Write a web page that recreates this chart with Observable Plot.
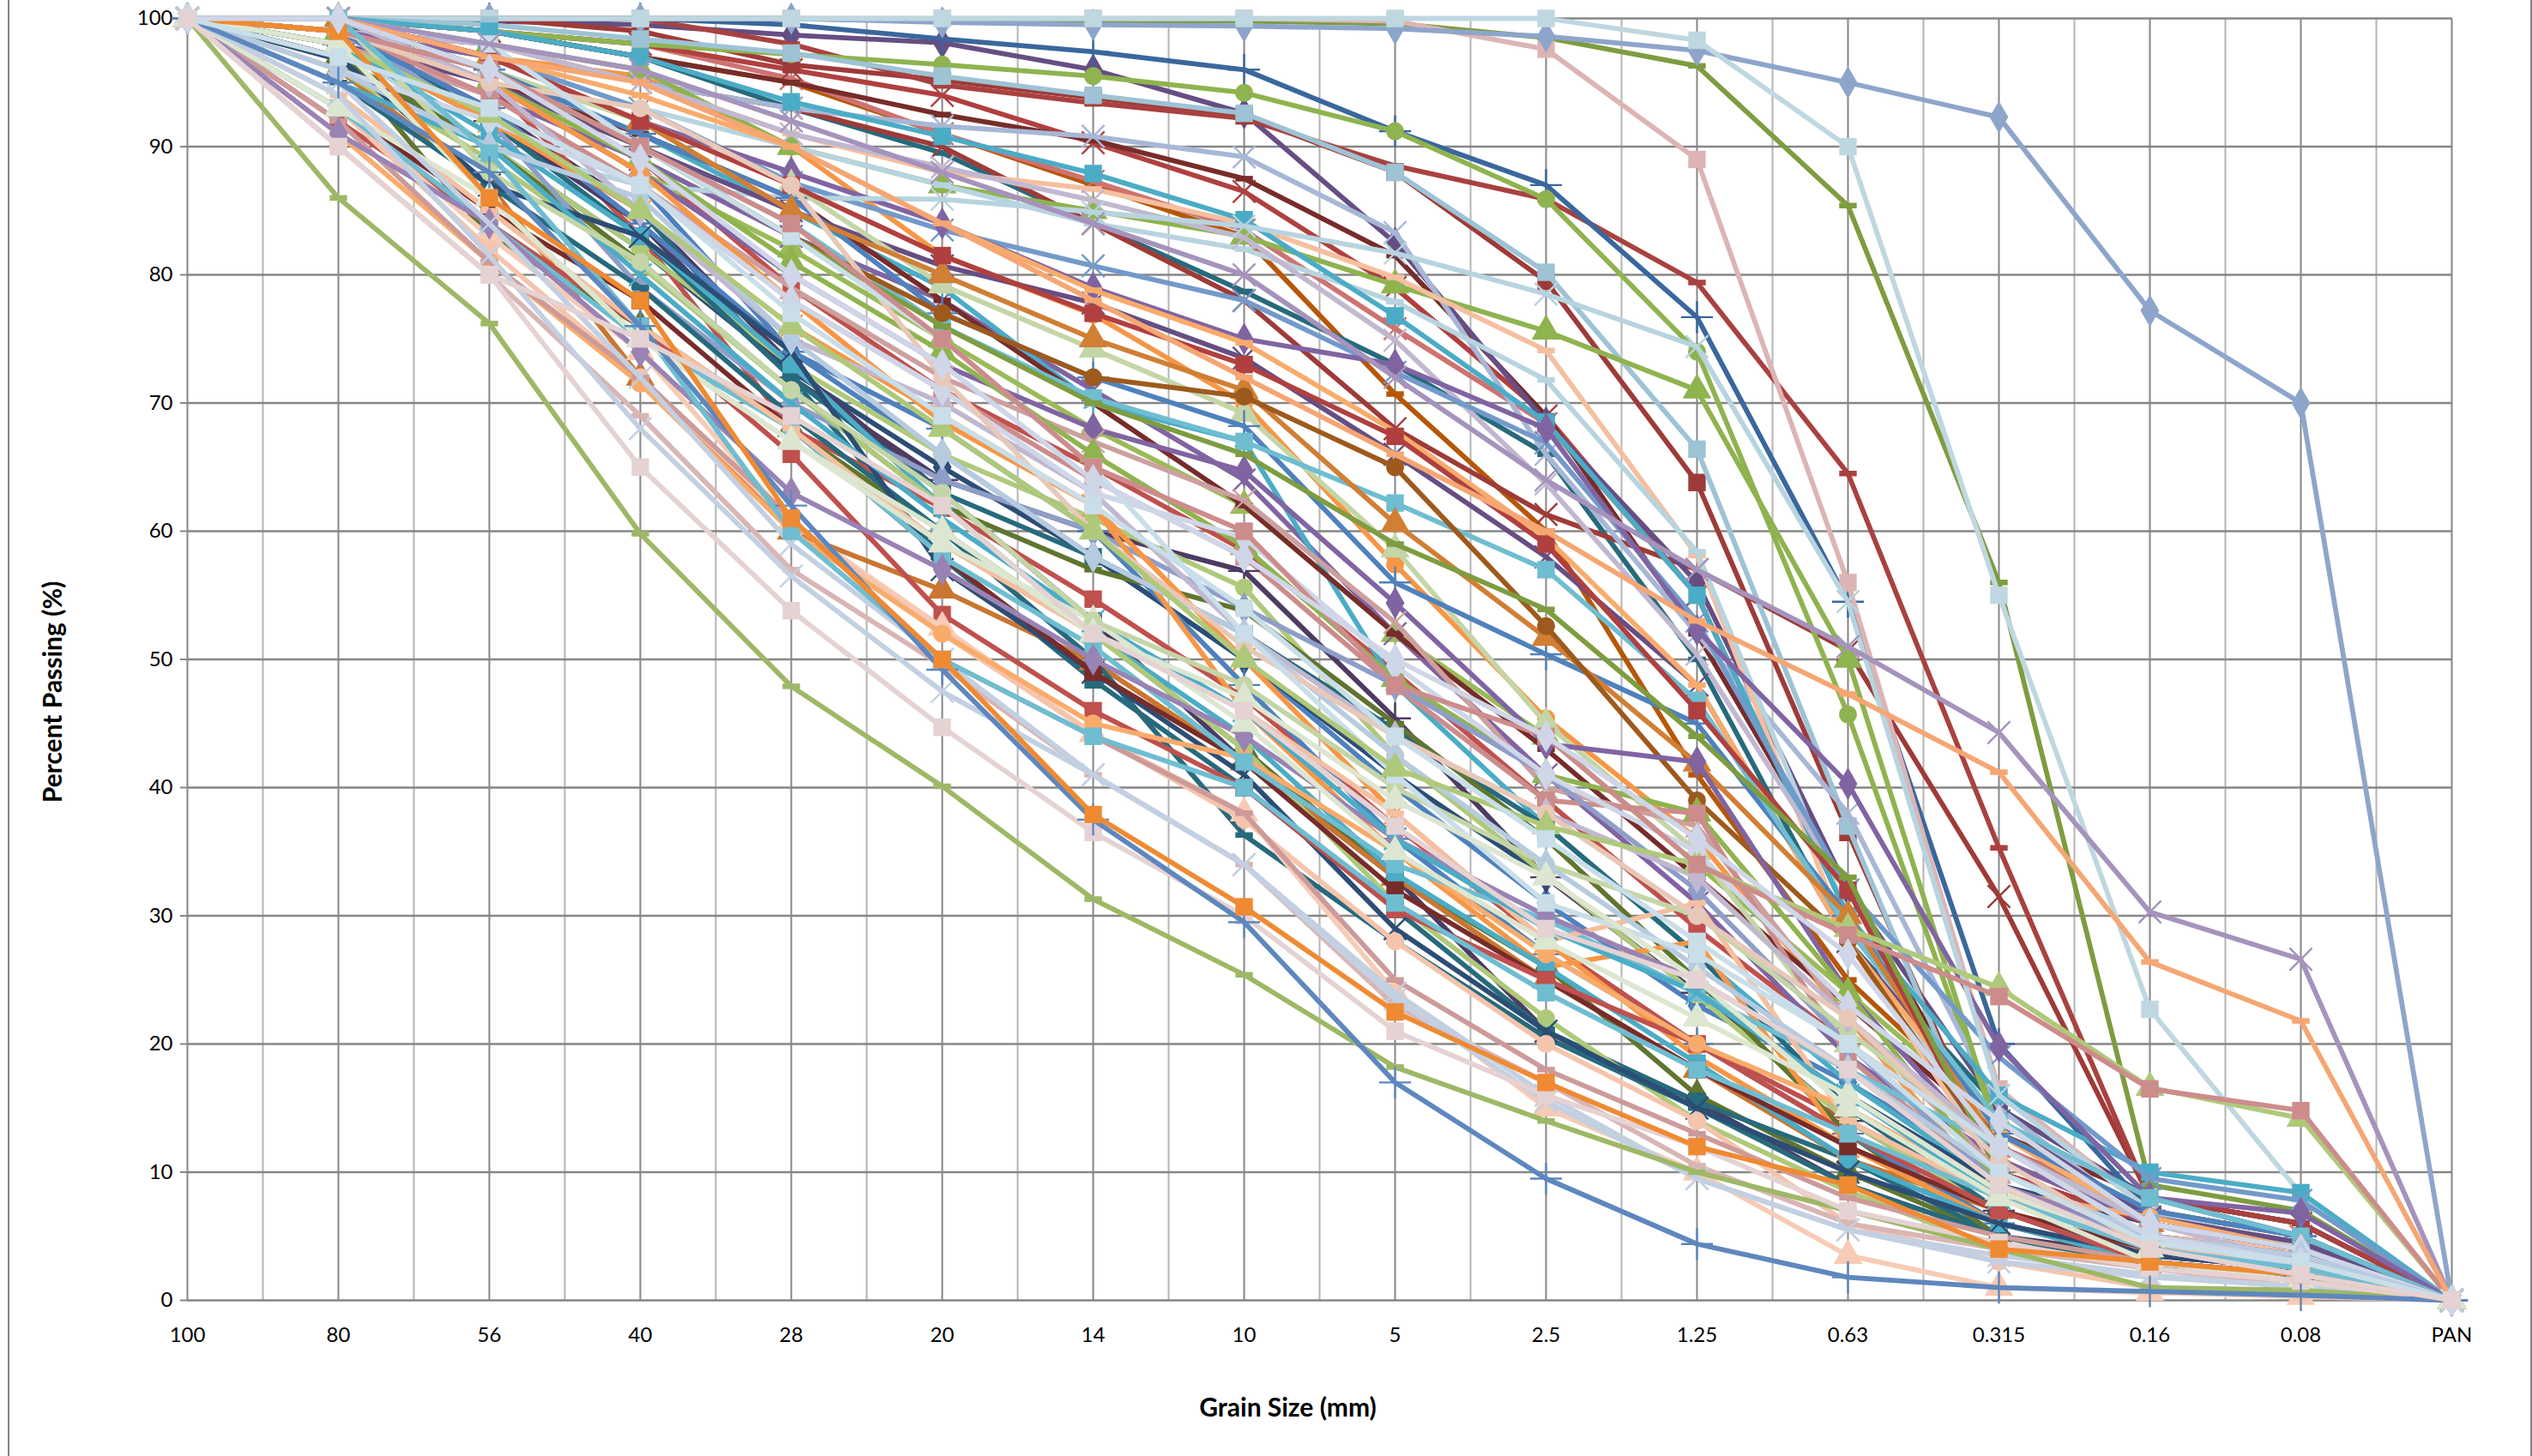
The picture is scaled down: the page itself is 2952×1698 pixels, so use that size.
<!DOCTYPE html>
<html><head><meta charset="utf-8">
<style>
html,body{margin:0;padding:0;background:#fff;overflow:hidden}
#frame{position:absolute;left:9px;top:0;width:2939px;height:1698px;border-left:2px solid #868686;border-right:2px solid #868686}
#chart{position:absolute;left:0;top:0}
svg{display:block;background:transparent}
</style>
<script src="https://cdn.jsdelivr.net/npm/d3@7"></script>
<script src="https://cdn.jsdelivr.net/npm/@observablehq/plot@0.6"></script>
</head><body><div id="frame"></div><div id="chart"></div>
<script>
const grainLabels=["100","80","56","40","28","20","14","10","5","2.5","1.25","0.63","0.315","0.16","0.08","PAN"];
const percentTicks=[0,10,20,30,40,50,60,70,80,90,100];
const s01=[100,97,93,87,74,66,58,50,40,31,23,17,10,6,4,0];
const s02=[100,100,96,89,79,71,65,58.5,49,39,29,20,12,7,5,0];
const s03=[100,100,95,88,82,75,68,62,52,44,34,24,14,6,4,0];
const s04=[100,98,94,89,83,78,71,64,52,41,31,19,11,6,4,0];
const s05=[100,99,96,91,85,79,70,67,48,37,27,17,9,4,3,0];
const s06=[100,100,97,95.5,90,81.5,76.9,70,57.4,45.4,36,22,8,5,3.5,0];
const s07=[100,96.8,90,82,72.5,65,58,50,41,33,24,16,9,6,4,0];
const s08=[100,99,95,91,86,78,70,62,52,43,33,23,13,8,6,0];
const s09=[100,97,83,76,68,60,52,43,33,26,16,10,5,3,2,0];
const s10=[100,99,93,85,73,63,53,42,33,21,15.5,9,5,3.5,2.5,0];
const s11=[100,100,92,85,72,57.9,48.4,40,30.5,21,15.5,11,5,2.5,1.8,0];
const s12=[100,96,87,72,60,55.4,49.8,42,33,25,18,11,7,4,3,0];
const s13=[100,100,95,83,68,61.8,54.7,47,37,28,20,14,8,5,3.5,0];
const s14=[100,100,99,97,95,91,87,83,70.7,60,41,25,14,6,4,0];
const s15=[100,100,99,98,95.3,91,87.3,83.5,75.8,68.4,55,30,12,7,5,0];
const s16=[100,100,99,97,93,89.5,84,78.7,73,66,50,28,15,8,6,0];
const s17=[100,100,99,98,96,94,90.3,86.5,79,69,55,30,10,6,4,0];
const s18=[100,100,99,97,95,92.5,90.5,87.5,81.5,69,52,32,12,6,4,0];
const s19=[100,99,98,95,93,90,84,78,68,61.3,57,50.7,31.5,8,6,0];
const s20=[100,100,99.8,99.5,98.7,98.1,96,92.6,82.5,68.5,56,32,15,8,5,0];
const s21=[100,100,100,99,96.4,95.2,93.8,92.4,88,79.5,63.8,36.5,10,5,4,0];
const s22=[100,100,100,100,98,94.8,93.4,92.2,88.5,85.9,79.4,64.5,35.3,8,6,0];
const s23=[100,100,100,100,99.5,98.4,97.4,96,91.2,87,76.7,54.5,20,7,5,0];
const s24=[100,100,99,98,97.2,96.4,95.5,94.2,91.2,85.9,74,45.7,13,7,5,0];
const s25=[100,100,100,100,100,99.8,99.8,99.8,99.6,98.5,96.3,85.4,56,9,7,0];
const s26=[100,100,100,100,100,100,100,100,99.8,97.6,89,56,16.5,7,3,0];
const s27=[100,100,100,100,100,99.7,99.5,99.4,99.2,98.6,97.5,95,92.3,77.2,70,0];
const s28=[100,100,100,100,100,100,100,100,100,100,98.3,90,55,22.7,8.3,0];
const s29=[100,100,99.5,98.4,97.3,95.5,94,92.6,88,80.2,66.4,37,9,4.5,3,0];
const s30=[100,100,98,95,93,91.6,90.8,89.2,83.3,66,52,38,15,6,4,0];
const s31=[100,100,98,96,90,87,85,83,79.2,75.6,71,50,13,6,4,0];
const s32=[100,100,98,95,91,88,86.7,84,79.8,74.1,58.1,28,10,5,4,0];
const s33=[100,100,97,93,90,87,84,82,77.9,71.8,58.4,30,10,5,3,0];
const s34=[100,100,99,97,93.5,90.8,87.9,84.3,76.8,68.5,55,30,16,10,8.4,0];
const s35=[100,99,98,95,91,88.4,85.8,82.9,74.9,63.7,50.4,32,11,6,4,0];
const s36=[100,99,97,93,87.2,83.5,80.7,78,72.4,66.9,53,32,19,9.5,7.8,0];
const s37=[100,99,97,92,88,84,79,75,73,68,52.3,40.3,19.8,8,6.8,0];
const s38=[100,98,90,87,86,85.9,84.9,83.8,81.7,78.5,74.4,54.5,16,7,4,0];
const s39=[100,98,95,90,85,80.7,77.8,73.5,66,58,48,28,14,6.5,4.5,0];
const s40=[100,100,97,94,90,84,78.8,74.7,67.8,59.5,48,28,13,6,4,0];
const s41=[100,99,96,92,87,79.2,74.2,69.2,58.6,45,35,20,10,5,3,0];
const s42=[100,100,96,91,86,77,72,68.2,56,50.4,45,30,13,7,5,0];
const s43=[100,99,96,90,84,76,70.4,67,62.2,57,46.8,29,14,8,5,0];
const s44=[100,100,97,92,85,80,75,71,60.6,51.7,41.9,30,12,6,4,0];
const s45=[100,99,96,90,83,77,72,70.5,65,52.6,39,28,11,6,4,0];
const s46=[100,100,97,92,87,81.5,77,73,67.4,59,46,32,10,6,4,0];
const s47=[100,99,95,88,80,73,68,64.7,54.4,43.4,42,24,11,6,4,0];
const s48=[100,98,94,87,79,72,67,62.4,52.9,40,37,22,10,5,3,0];
const s49=[100,100,96,90,83,76,70,66,59,53.9,44,33,10,5,3.5,0];
const s50=[100,99,95,89,81,74,66,58.8,48.5,41,38,24,9,4.5,3,0];
const s51=[100,99,94,87,78,71,64,58,47.9,39,38,19,9,5,3,0];
const s52=[100,98,92,84,72,64,60,56.9,45.4,33,24,14,7,3.5,2.5,0];
const s53=[100,97,90,82,73,66,61,55.6,42.5,33.2,23.8,14,7,4,2.5,0];
const s54=[100,98,92,83,72,63,58,52,44.5,37,27,15,7,3,2,0];
const s55=[100,97,90,81,71,62,57,53.8,45,36,25,13,5,3,2,0];
const s56=[100,99,92,79,70,64,60,54,48,41,32,20,9,4.5,3,0];
const s57=[100,99,93,84,74,68,60,48,36,27,20,13,6,3,2,0];
const s58=[100,98,92,85,76,69,62,50,38,28,19,12,6,3,2,0];
const s59=[100,99,95,88,78,68.5,62,46,35,26,28,12,7,4,3,0];
const s60=[100,98,91,83,73,62,52,44,33.3,26,18.5,11,6,3,2,0];
const s61=[100,96,89,80.7,71,62,52,43,31,22,14,8.5,4,2.5,1.5,0];
const s62=[100,95,87,79,69,60,50,36.3,28,20.5,15,9,5,3,2,0];
const s63=[100,97,87,83,74,57,49,41,29,21,15,10,6,3.5,2.5,0];
const s64=[100,93,85,78,68,58,49,42,32,25,18,12,7,4,2.5,0];
const s65=[100,92,84,76,66,53.5,46,40,30.5,25,20,13,7,3,2,0];
const s66=[100,93,83,74,60.7,52.5,44.2,38,24,15,10,3.5,1,.6,.3,0];
const s67=[100,93,82,72,60.7,52,44.2,37.5,28,20,14,6,3,1,.5,0];
const s68=[100,91,81,71.5,60,52,45,42.3,35,27,20,15,8.5,6.5,4,0];
const s69=[100,90,80,69,57,49.5,41,34,23,17,10.5,6,4,2.5,1,0];
const s70=[100,92,81,72,61,50,44,38,25,18,13,8,5,3,2,0];
const s71=[100,93,84,75,68,58,51,42,34,29.7,24,18,12,6,4,0];
const s72=[100,94,85,76,68,59,52,46,38,28,31,14,8,4,3,0];
const s73=[100,91,84,74,63,57,50,44,36,30,25,18,9,5,3.5,0];
const s74=[100,95,90,80,70,61,53,46,36,29,24,16,8,4,2.5,0];
const s75=[100,93,86,75,67,59,53,45,35,28,22,16,8.5,4,2.5,0];
const s76=[100,100,88,81,71,63,53,48,40,34,30,21,12,5,3,0];
const s77=[100,100,95,85,75,70,63,52,44,38,33,22,12,6,3,0];
const s78=[100,96,92,87,78,71,63,59.5,49.5,41,35,23,14,6,4,0];
const s79=[100,96,90,86,75,66,58,52,42.5,34,26,18,10,5,3.5,0];
const s80=[100,99,95,93,87,72,60,51,44,38,30,22,11,4,2,0];
const s81=[100,100,98,90,83,75,65,52,41,31,27,20,12,5,2.5,0];
const s82=[100,98,92.5,85,76,68,60,50,41.5,37,34,29,24.4,16.6,14.2,0];
const s83=[100,99,96,90,84,75,65,60,48,44,34,28.5,23.7,16.5,14.8,0];
const s84=[100,100,98,96,92,88,84,80,72,64,57,51,44.3,30.3,26.6,0];
const s85=[100,100,97,95,90,84,78,72,66,60,53,47.3,41.2,26.4,21.8,0];
const s86=[100,95,84,72,59,50,41,34,24,16,9.5,5.5,3,1.8,1.1,0];
const s87=[100,94,81.5,68,56.5,47.5,41,34,23.5,15.5,9.5,5.5,3.5,2,1,0];
const s88=[100,100,89.5,76,60,50,44,40,31,24,18,13,8,4,2.5,0];
const s89=[100,98,86,75,67,60,52,47,39,33,25,15,8,3,1.5,0];
const s90=[100,86,76.2,59.8,47.9,40.1,31.3,25.4,18.2,14,10,7,4,1,.8,0];
const s91=[100,90,80,65,53.8,44.7,36.5,30,21,16,12,7,4.5,2.5,1.5,0];
const s92=[100,95,88,76,62,49.2,37.5,29.5,17,9.5,4.4,1.8,1,.7,.4,0];
const s93=[100,99,86,78,61,50,37.9,30.7,22.5,17,12,9,4,3,2,0];
const s94=[100,100,96,89,80,73,64,58,50,44,36,27,12,5,3,0];
const s95=[100,97,93,87,77,69,62,54,44,36,28,20,10,4.5,3,0];
const s96=[100,90,80,75,69,62,52,46,37,29,25,18,9,4,2,0];
const allSeries=[s01,s02,s03,s04,s05,s06,s07,s08,s09,s10,s11,s12,s13,s14,s15,s16,s17,s18,s19,s20,s21,s22,s23,s24,s25,s26,s27,s28,s29,s30,s31,s32,s33,s34,s35,s36,s37,s38,s39,s40,s41,s42,s43,s44,s45,s46,s47,s48,s49,s50,s51,s52,s53,s54,s55,s56,s57,s58,s59,s60,s61,s62,s63,s64,s65,s66,s67,s68,s69,s70,s71,s72,s73,s74,s75,s76,s77,s78,s79,s80,s81,s82,s83,s84,s85,s86,s87,s88,s89,s90,s91,s92,s93,s94,s95,s96];
const seriesColors=["#4F81BD","#C0504D","#9BBB59","#8064A2","#4BACC6","#F79646","#2C4D75","#772C2A","#5F7530","#4D3B62","#276A7C","#C97630","#C0504D","#B65708","#CD7371","#276A7C","#B0403F","#772C2A","#9E3B38","#664E83","#9E3B38","#A94140","#3A679C","#8FB34F","#7E9C40","#DDB4B4","#8EA5CB","#BFD7E0","#9DC3D5","#A7B7D6","#8FB34F","#F5BFA0","#B7D4DF","#4BACC6","#C1B8D0","#729ACA","#8064A2","#B7D4DF","#664E83","#F9AB6B","#C4D5A7","#4F81BD","#6FBDD1","#D07F34","#9E5A1C","#B0403F","#8064A2","#CDA0A0","#7E9C40","#8FB34F","#CC8C8C","#4D3B62","#AFC97A","#276A7C","#5F7530","#8E9EC8","#4F81BD","#F79646","#F79646","#4BACC6","#AFC97A","#276A7C","#2C4D75","#772C2A","#C0504D","#F7CBB5","#F5C4AC","#F9AB6B","#D9B5B5","#CD9A9A","#6FBDD1","#F5BFA0","#9983B5","#4BACC6","#DCE6D0","#C4D5A7","#C1B8D0","#CFD6E8","#B7CBE0","#E8C8B8","#C9DEE8","#AFC97A","#CD8C8C","#A593BC","#F5A673","#C3D0E2","#C3D0E2","#6FBDD1","#DCE6D0","#9DB866","#E5D2D2","#5E87BE","#EF8A32","#CFD6E8","#C9DEE8","#E5D2D2"];
const seriesSymbols=["diamond","square","triangle","times","asterisk","circle","diamond","dash","triangle","square","square","triangle","square","dash","times","dash","times","dash","times","diamond","square","dash","plus","circle","dash","square","diamond","square","square","times","triangle","dash","dash","square","times","times","diamond","times","times","dash","triangle","plus","square","triangle","circle","square","diamond","times","dash","triangle","square","plus","circle","square","dash","diamond","plus","times","circle","square","circle","dash","times","square","square","triangle","circle","circle","dash","dash","square","dash","diamond","times","triangle","circle","diamond","diamond","diamond","circle","square","triangle","square","times","dash","times","times","square","triangle","dash","square","plus","square","diamond","square","square"];

const dash={draw(ctx,size){const w=Math.sqrt(size),h=w*0.32;ctx.rect(-w/2,-h/2,w,h);}};
const symbolOf=n=>n==="dash"?dash:n;
const rOf={diamond:11.5,square:11.5,triangle:12.5,circle:10.5,times:12,asterisk:12,plus:12,dash:11.5};
const strokeOnly=new Set(["times","asterisk","plus"]);

const seriesMarks=allSeries.flatMap((values,k)=>{
  const rows=values.map((v,i)=>({i,v}));
  const color=seriesColors[k],name=seriesSymbols[k];
  const stroked=strokeOnly.has(name);
  return [
    Plot.line(rows,{x:"i",y:"v",stroke:color,strokeWidth:5.8,curve:"linear"}),
    Plot.dot(rows,{x:"i",y:"v",symbol:symbolOf(name),r:rOf[name],
      fill:stroked?"none":color,stroke:stroked?color:"none",strokeWidth:stroked?2.4:0})
  ];
});

const font="Lato, Carlito, sans-serif";
const chart=Plot.plot({
  width:2952,height:1698,marginLeft:218,marginRight:94,marginTop:21,marginBottom:182,
  style:{fontFamily:font,fontSize:"24px",color:"#000",background:"transparent",overflow:"visible"},
  x:{domain:[0,15]},y:{domain:[0,100]},
  marks:[
    Plot.gridX(d3.range(0.5,15,1),{stroke:"#b4b4b4",strokeWidth:2,strokeOpacity:1}),
    Plot.gridX(d3.range(0,16,1),{stroke:"#868686",strokeWidth:2,strokeOpacity:1}),
    Plot.gridY(percentTicks,{stroke:"#868686",strokeWidth:2.6,strokeOpacity:1}),
    Plot.axisX(d3.range(0,16,1),{tickSize:0,tickPadding:31,tickFormat:i=>grainLabels[i],label:null,fill:"#000"}),
    Plot.axisY(percentTicks,{tickSize:8,tickPadding:9,stroke:"#868686",strokeWidth:2,label:null,fill:"#000"}),
    ...seriesMarks,
    Plot.text(["Percent Passing (%)"],{frameAnchor:"left",dx:-156,dy:38,rotate:-90,textAnchor:"middle",lineAnchor:"middle",fontWeight:700,fontSize:30,fill:"#000"}),
    Plot.text(["Grain Size (mm)"],{frameAnchor:"bottom",dx:-37,dy:126,textAnchor:"middle",lineAnchor:"middle",fontWeight:700,fontSize:30,fill:"#000"})
  ]
});
document.getElementById("chart").append(chart);
</script></body></html>
